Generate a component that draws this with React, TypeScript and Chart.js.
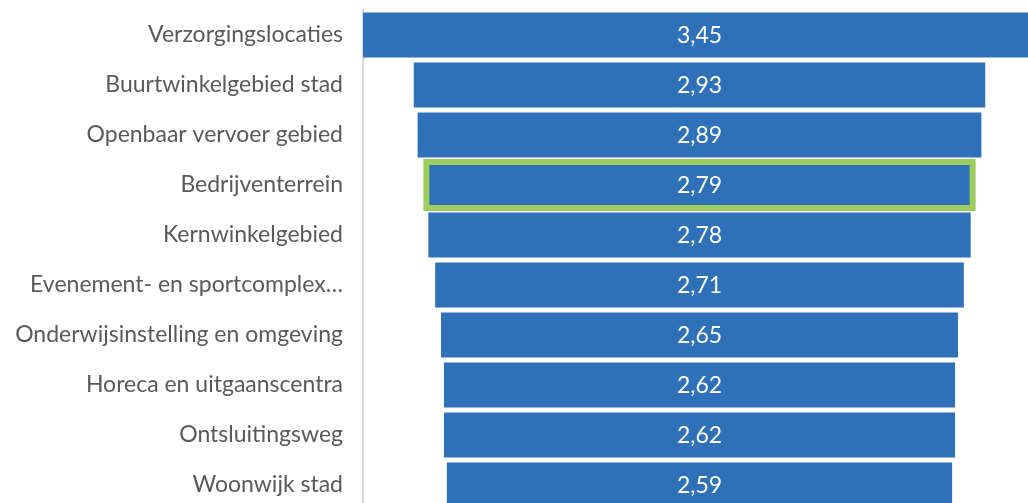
import React, { useEffect, useRef } from "react";
import { Chart, registerables } from "chart.js";

Chart.register(...registerables);

const categories = [
  "Verzorgingslocaties",
  "Buurtwinkelgebied stad",
  "Openbaar vervoer gebied",
  "Bedrijventerrein",
  "Kernwinkelgebied",
  "Evenement- en sportcomplex…",
  "Onderwijsinstelling en omgeving",
  "Horeca en uitgaanscentra",
  "Ontsluitingsweg",
  "Woonwijk stad",
];
const values = [3.45, 2.93, 2.89, 2.79, 2.78, 2.71, 2.65, 2.62, 2.62, 2.59];
const highlightIndex = 3;

const BLUE = "#2E71B8";
const GREEN = "#9DCC5F";
const FONT = "Lato, 'Open Sans', sans-serif";

export default function App() {
  const ref = useRef<HTMLCanvasElement | null>(null);
  useEffect(() => {
    document.body.style.overflow = "hidden";
    const maxV = Math.max(...values);
    const labelPlugin = {
      id: "funnelLabels",
      afterDatasetsDraw(chart: any) {
        const ctx = chart.ctx;
        const meta = chart.getDatasetMeta(0);
        ctx.save();
        const el = meta.data[highlightIndex];
        if (el) {
          const p = el.getProps(["x", "y", "base", "height"], true);
          const left = Math.min(p.x, p.base);
          const right = Math.max(p.x, p.base);
          ctx.strokeStyle = GREEN;
          ctx.lineWidth = 6;
          ctx.strokeRect(left - 1, p.y - p.height / 2 - 0.5, right - left + 2, p.height + 1);
        }
        ctx.fillStyle = "#ffffff";
        ctx.font = "23px " + FONT;
        ctx.textAlign = "center";
        ctx.textBaseline = "middle";
        meta.data.forEach((e: any, i: number) => {
          const p = e.getProps(["x", "y", "base"], true);
          ctx.fillText(values[i].toFixed(2).replace(".", ","), (p.x + p.base) / 2, p.y + 1);
        });
        ctx.restore();
      },
    };
    const chart = new Chart(ref.current!, {
      type: "bar",
      data: {
        labels: categories,
        datasets: [
          {
            data: values.map((v) => [-v / 2, v / 2]) as any,
            backgroundColor: BLUE,
            borderWidth: 0,
            categoryPercentage: 1,
            barPercentage: 0.9,
          },
        ],
      },
      options: {
        indexAxis: "y",
        animation: false,
        responsive: false,
        maintainAspectRatio: false,
        layout: { padding: { top: 10, right: 0, bottom: 0, left: 0 } },
        plugins: { legend: { display: false }, tooltip: { enabled: false } },
        scales: {
          x: {
            display: false,
            min: -maxV / 2,
            max: maxV / 2,
          },
          y: {
            grid: { display: false, drawTicks: false },
            border: { display: true, color: "#D9D9D9", width: 2 },
            ticks: {
              color: "#595959",
              padding: 20,
              font: { family: FONT, size: 23 },
            },
            afterFit(scale: any) {
              scale.width = 363;
              scale.paddingTop = 0;
              scale.paddingBottom = 0;
            },
          },
        },
      },
      plugins: [labelPlugin],
    });
    return () => chart.destroy();
  }, []);
  return (
    <div style={{ position: "fixed", left: 0, top: 0, width: 1036, height: 510, background: "#fff" }}>
      <canvas ref={ref} width={1036} height={510} style={{ width: 1036, height: 510 }} />
    </div>
  );
}
